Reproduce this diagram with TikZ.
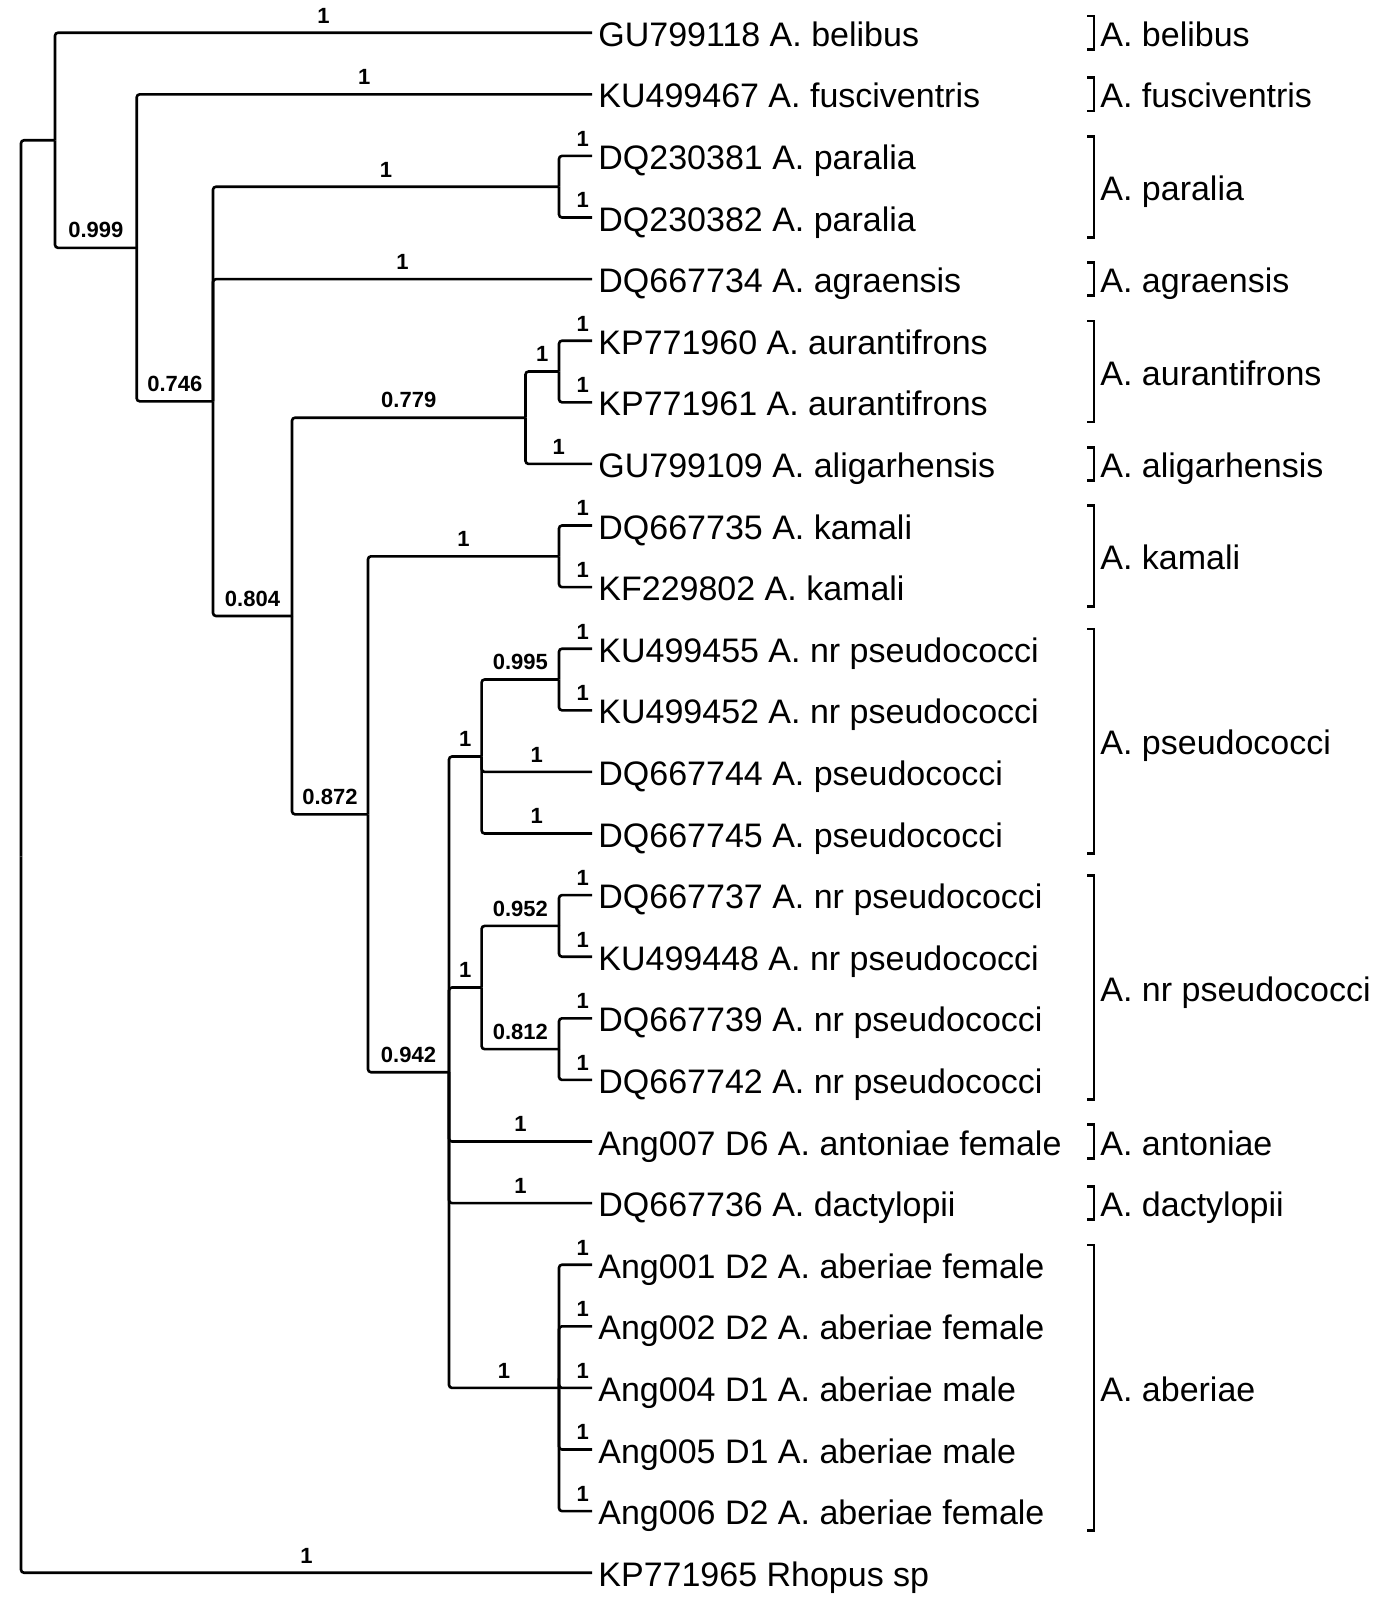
\documentclass[tikz,border=0pt]{standalone}
\usepackage{fontspec}
\setmainfont{Liberation Sans}
\begin{document}
\begin{tikzpicture}[x=0.5pt,y=-30.8pt,
  br/.style={line width=1.3pt, rounded corners=1.5pt},
  brk/.style={line width=1.4pt},
  tip/.style={anchor=base west, inner sep=0pt, font=\fontsize{17}{19}\selectfont, yshift=-6.8pt},
  sup/.style={anchor=south, inner sep=0pt, font=\bfseries\fontsize{11}{12}\selectfont, yshift=4.2pt}]
\useasboundingbox (0,-0.531) rectangle (1400,25.443);
% tips
\foreach \i/\txt in {0/{GU799118 A. belibus},1/{KU499467 A. fusciventris},2/{DQ230381 A. paralia},3/{DQ230382 A. paralia},4/{DQ667734 A. agraensis},5/{KP771960 A. aurantifrons},6/{KP771961 A. aurantifrons},7/{GU799109 A. aligarhensis},8/{DQ667735 A. kamali},9/{KF229802 A. kamali},10/{KU499455 A. nr pseudococci},11/{KU499452 A. nr pseudococci},12/{DQ667744 A. pseudococci},13/{DQ667745 A. pseudococci},14/{DQ667737 A. nr pseudococci},15/{KU499448 A. nr pseudococci},16/{DQ667739 A. nr pseudococci},17/{DQ667742 A. nr pseudococci},18/{Ang007 D6 A. antoniae female},19/{DQ667736 A. dactylopii},20/{Ang001 D2 A. aberiae female},21/{Ang002 D2 A. aberiae female},22/{Ang004 D1 A. aberiae male},23/{Ang005 D1 A. aberiae male},24/{Ang006 D2 A. aberiae female},25/{KP771965 Rhopus sp}}{
  \coordinate (e\i) at (592,\i);
  \node[tip] (t\i) at (598,\i) {\txt};
}
% internal nodes
\coordinate (root) at (21,13.37);
\coordinate (n999) at (55,1.746);
\coordinate (n746) at (136.7,3.492);
\coordinate (n804) at (213,5.984);
\coordinate (P) at (559,2.5);
\coordinate (n872) at (292,9.469);
\coordinate (n779) at (525.5,6.25);
\coordinate (AU) at (559,5.5);
\coordinate (n942) at (368,12.688);
\coordinate (K) at (559,8.5);
\coordinate (nbig) at (449,16.875);
\coordinate (PS) at (481.6,11.75);
\coordinate (n995) at (559,10.5);
\coordinate (NR) at (481.6,15.5);
\coordinate (n952) at (559,14.5);
\coordinate (n812) at (559,16.5);
\coordinate (AB) at (559,22);
% branches
\draw[br] (root) |- (n999);
\draw[br] (root) |- (e25) node[sup,pos=0.75] {1};
\draw[br] (n999) |- (e0) node[sup,pos=0.75] {1};
\draw[br] (n999) |- (n746) node[sup,pos=0.75] {0.999};
\draw[br] (n746) |- (e1) node[sup,pos=0.75] {1};
\draw[br] (n746) |- (n804) node[sup,pos=0.75] {0.746};
\draw[br] (n804) |- (P) node[sup,pos=0.75] {1};
\draw[br] (n804) |- (e4) node[sup,pos=0.75] {1};
\draw[br] (n804) |- (n872) node[sup,pos=0.75] {0.804};
\draw[br] (P) |- (e2) node[sup,pos=0.86] {1};
\draw[br] (P) |- (e3) node[sup,pos=0.86] {1};
\draw[br] (n872) |- (n779) node[sup,pos=0.75] {0.779};
\draw[br] (n872) |- (n942) node[sup,pos=0.75] {0.872};
\draw[br] (n779) |- (AU) node[sup,pos=0.75] {1};
\draw[br] (n779) |- (e7) node[sup,pos=0.75] {1};
\draw[br] (AU) |- (e5) node[sup,pos=0.86] {1};
\draw[br] (AU) |- (e6) node[sup,pos=0.86] {1};
\draw[br] (n942) |- (K) node[sup,pos=0.75] {1};
\draw[br] (n942) |- (nbig) node[sup,pos=0.75] {0.942};
\draw[br] (K) |- (e8) node[sup,pos=0.86] {1};
\draw[br] (K) |- (e9) node[sup,pos=0.86] {1};
\draw[br] (nbig) |- (PS) node[sup,pos=0.75] {1};
\draw[br] (nbig) |- (NR) node[sup,pos=0.75] {1};
\draw[br] (nbig) |- (e18) node[sup,pos=0.75] {1};
\draw[br] (nbig) |- (e19) node[sup,pos=0.75] {1};
\draw[br] (nbig) |- (AB) node[sup,pos=0.75] {1};
\draw[br] (PS) |- (n995) node[sup,pos=0.75] {0.995};
\draw[br] (PS) |- (e12) node[sup,pos=0.75] {1};
\draw[br] (PS) |- (e13) node[sup,pos=0.75] {1};
\draw[br] (n995) |- (e10) node[sup,pos=0.86] {1};
\draw[br] (n995) |- (e11) node[sup,pos=0.86] {1};
\draw[br] (NR) |- (n952) node[sup,pos=0.75] {0.952};
\draw[br] (NR) |- (n812) node[sup,pos=0.75] {0.812};
\draw[br] (n952) |- (e14) node[sup,pos=0.86] {1};
\draw[br] (n952) |- (e15) node[sup,pos=0.86] {1};
\draw[br] (n812) |- (e16) node[sup,pos=0.86] {1};
\draw[br] (n812) |- (e17) node[sup,pos=0.86] {1};
\foreach \i in {20,...,24}{
  \draw[br] (AB) |- (e\i) node[sup,pos=0.86] {1};
}
% clade brackets
\foreach \a/\b/\n/\txt in {-0.27/0.27/belibus/{A. belibus},0.73/1.27/fusc/{A. fusciventris},1.68/3.32/paralia/{A. paralia},3.73/4.27/agra/{A. agraensis},4.68/6.32/aur/{A. aurantifrons},6.73/7.27/alig/{A. aligarhensis},7.68/9.32/kam/{A. kamali},9.68/13.32/pse/{A. pseudococci},13.68/17.32/nrp/{A. nr pseudococci},17.73/18.27/ant/{A. antoniae},18.73/19.27/dac/{A. dactylopii},19.68/24.32/abe/{A. aberiae}}{
  \draw[brk] (1087,\a) -- (1094,\a) -- (1094,\b) -- (1087,\b);
  \node[tip] (c\n) at (1100,{(\a+\b)/2}) {\txt};
}
\end{tikzpicture}
\end{document}
